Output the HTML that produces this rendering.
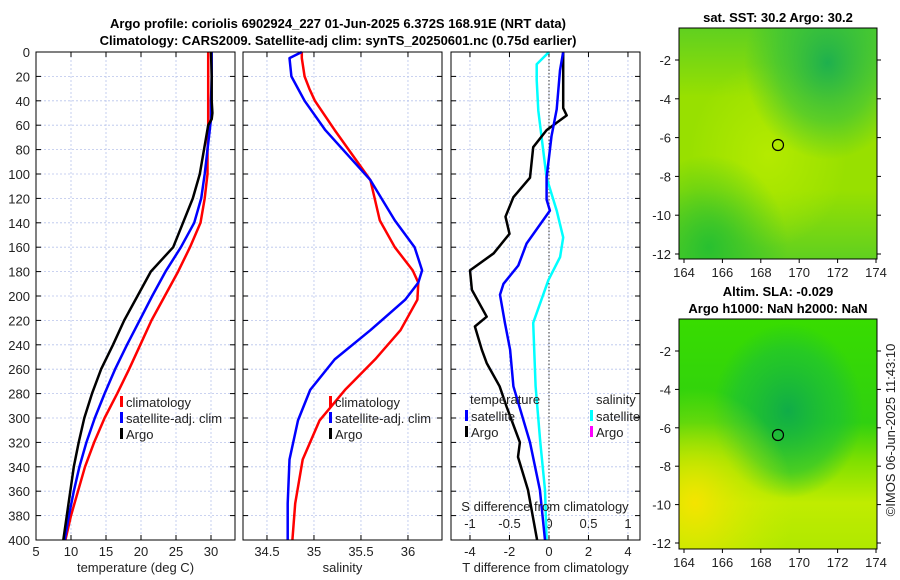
<!DOCTYPE html>
<html><head><meta charset="utf-8"><style>
body{margin:0;background:#fff;}
svg{display:block;font-family:"Liberation Sans",sans-serif;}
.t{font-size:13px;fill:#222;}
.ti{font-size:13px;font-weight:bold;fill:#000;}
</style></head><body>
<svg id="c" width="900" height="580" xmlns="http://www.w3.org/2000/svg">
<defs>
<radialGradient id="g1a" cx="0.75" cy="0.15" r="0.42"><stop offset="0" stop-color="#1eb04e"/><stop offset="0.6" stop-color="#30c040" stop-opacity="0.6"/><stop offset="1" stop-color="#30c040" stop-opacity="0"/></radialGradient>
<radialGradient id="g1b" cx="0.15" cy="0.95" r="0.4"><stop offset="0" stop-color="#28c030"/><stop offset="1" stop-color="#28c030" stop-opacity="0"/></radialGradient>
<radialGradient id="g1d" cx="0.45" cy="0.55" r="0.4"><stop offset="0" stop-color="#b4ea00"/><stop offset="1" stop-color="#b4ea00" stop-opacity="0"/></radialGradient>
<linearGradient id="g1c" x1="0" y1="0" x2="0" y2="1"><stop offset="0" stop-color="#60d020"/><stop offset="0.3" stop-color="#98e000"/><stop offset="0.7" stop-color="#98e000"/><stop offset="1" stop-color="#60d020"/></linearGradient>
<radialGradient id="g2a" cx="0.55" cy="0.4" r="0.38"><stop offset="0" stop-color="#10ac48"/><stop offset="0.7" stop-color="#1cc038" stop-opacity="0.6"/><stop offset="1" stop-color="#1cc038" stop-opacity="0"/></radialGradient>
<radialGradient id="g2b" cx="0.08" cy="0.8" r="0.5"><stop offset="0" stop-color="#f4e400"/><stop offset="1" stop-color="#d0ee00" stop-opacity="0"/></radialGradient>
<linearGradient id="g2c" x1="0" y1="0" x2="0" y2="1"><stop offset="0" stop-color="#38dc00"/><stop offset="0.45" stop-color="#30d010"/><stop offset="0.62" stop-color="#80e000"/><stop offset="0.8" stop-color="#c0ec00"/><stop offset="1" stop-color="#b0e800"/></linearGradient>
</defs>
<text class="ti" x="338" y="28" text-anchor="middle">Argo profile: coriolis 6902924_227 01-Jun-2025 6.372S 168.91E (NRT data)</text>
<text class="ti" x="338" y="45" text-anchor="middle">Climatology: CARS2009. Satellite-adj clim: synTS_20250601.nc (0.75d earlier)</text>
<g id="plots"></g>
<g>
<rect x="679" y="28" width="198" height="231" fill="url(#g1c)"/>
<rect x="679" y="28" width="198" height="231" fill="url(#g1d)"/>
<rect x="679" y="28" width="198" height="231" fill="url(#g1a)"/>
<rect x="679" y="28" width="198" height="231" fill="url(#g1b)"/>
<circle cx="778" cy="145" r="5.5" fill="none" stroke="#000" stroke-width="1.2"/>
<rect x="679" y="28" width="198" height="231" fill="none" stroke="#000"/>
</g>
<text class="ti" x="778" y="22" text-anchor="middle">sat. SST: 30.2 Argo: 30.2</text>
<g>
<rect x="679" y="319" width="198" height="230" fill="url(#g2c)"/>
<rect x="679" y="319" width="198" height="230" fill="url(#g2a)"/>
<rect x="679" y="319" width="198" height="230" fill="url(#g2b)"/>
<circle cx="778" cy="435" r="5.5" fill="none" stroke="#000" stroke-width="1.2"/>
<rect x="679" y="319" width="198" height="230" fill="none" stroke="#000"/>
</g>
<text class="ti" x="778" y="296" text-anchor="middle">Altim. SLA: -0.029</text>
<text class="ti" x="778" y="313" text-anchor="middle">Argo h1000: NaN h2000: NaN</text>
<text class="t" x="0" y="0" transform="translate(895,430) rotate(-90)" text-anchor="middle">©IMOS 06-Jun-2025 11:43:10</text>
</svg>
<script>
const depths=[0,20,40,50,55,60,70,80,100,120,140,160,180,200,220,240,260,280,300,320,340,360,380,400];
const tClim=[29.6,29.6,29.6,29.6,29.6,29.6,29.6,29.5,29.5,29.1,28.5,27.0,25.3,23.4,21.5,19.9,18.3,16.6,14.8,13.3,12.0,11.0,10.0,9.2];
const tSat=[30.1,30.1,30.0,30.0,30.0,29.9,29.7,29.5,29.1,28.6,27.6,25.7,23.5,21.6,19.8,18.0,16.3,14.8,13.4,12.2,11.2,10.4,9.7,9.1];
const tArgo=[30.0,30.1,30.1,30.2,30.1,29.6,29.3,29.0,28.4,27.4,26.0,24.6,21.4,19.5,17.6,16.0,14.3,13.0,11.9,11.1,10.4,9.9,9.4,8.9];
const sDepths=[0,5,20,30,40,64,105,138,160,179,189,203,228,252,277,302,334,370,400];
const sClim=[34.87,34.87,34.9,34.95,35.01,35.22,35.6,35.7,35.86,36.05,36.11,36.1,35.92,35.65,35.33,35.06,34.88,34.8,34.77];
const sSat=[34.87,34.74,34.76,34.83,34.9,35.12,35.6,35.86,36.07,36.15,36.11,35.97,35.6,35.22,34.96,34.83,34.74,34.72,34.72];
const aDepths=[0,46,52,64,78,103,119,135,149,165,179,195,217,225,244,255,274,291,320,332,359,400];
const dTArgo=[0.72,0.72,0.9,-0.12,-0.8,-0.96,-1.8,-2.2,-2.0,-2.8,-4.0,-3.9,-3.15,-3.75,-3.4,-3.15,-2.5,-2.14,-1.47,-1.57,-1.06,-0.6];
const bDepths=[0,15,47,69,103,121,130,157,175,190,199,222,244,274,320,359,400];
const dTSat=[0.72,0.56,0.39,0.13,-0.12,-0.12,0.05,-1.13,-1.55,-2.3,-2.48,-2.23,-1.97,-1.8,-0.96,-0.46,-0.2];
const cDepths=[0,10,23,48,103,130,152,168,187,222,274,320,359,400];
const dSSat=[0,-0.156,-0.156,-0.135,-0.03,0.097,0.18,0.14,-0.008,-0.2,-0.17,-0.11,-0.05,-0.03];
const depthTicks=[0,20,40,60,80,100,120,140,160,180,200,220,240,260,280,300,320,340,360,380,400];
const tTicks=[5,10,15,20,25,30];
const sTicks=[34.5,35,35.5,36];
const dTicks=[-4,-2,0,2,4];
const dsTicks=[-1,-0.5,0,0.5,1];
const lonTicks=[164,166,168,170,172,174];
const latTicks=[-2,-4,-6,-8,-10,-12];

const NS='http://www.w3.org/2000/svg';
const root=document.getElementById('plots');
function mk(tag,attrs,parent){const e=document.createElementNS(NS,tag);for(const k in attrs)e.setAttribute(k,attrs[k]);(parent||root).appendChild(e);return e;}
const yTop=52,yBot=540;
const yS=d=>yTop+(d/400)*(yBot-yTop);
function panel(name,x0,x1,xmin,xmax,ticks,xlabel){
  const g=mk('g',{});
  
  
  const xs=v=>x0+(v-xmin)/(xmax-xmin)*(x1-x0);
  ticks.forEach(t=>{mk('line',{x1:xs(t),x2:xs(t),y1:yTop,y2:yBot,stroke:'#b8c4ec','stroke-width':0.8,'stroke-dasharray':'2,2'},g);});
  depthTicks.forEach(d=>{mk('line',{x1:x0,x2:x1,y1:yS(d),y2:yS(d),stroke:'#b8c4ec','stroke-width':0.8,'stroke-dasharray':'2,2'},g);
    mk('line',{x1:x0,x2:x0+5,y1:yS(d),y2:yS(d),stroke:'#000'},g);mk('line',{x1:x1,x2:x1-5,y1:yS(d),y2:yS(d),stroke:'#000'},g);});
  ticks.forEach(t=>{mk('line',{x1:xs(t),x2:xs(t),y1:yBot,y2:yBot-5,stroke:'#000'},g);mk('line',{x1:xs(t),x2:xs(t),y1:yTop,y2:yTop+5,stroke:'#000'},g);
    const tx=mk('text',{x:xs(t),y:yBot+16,'text-anchor':'middle',class:'t'},g);tx.textContent=t;});
  if(xlabel){const l=mk('text',{x:(x0+x1)/2,y:yBot+32,'text-anchor':'middle',class:'t'},g);l.textContent=xlabel;}
  return {g,xs};
}
function line(p,xsArr,ds,color,name,xf){
  const f=xf||p.xs;
  const pts=xsArr.map((v,i)=>f(v).toFixed(1)+','+yS(ds[i]).toFixed(1)).join(' ');
  const e=mk('polyline',{points:pts,fill:'none',stroke:color,'stroke-width':2.5,'stroke-linejoin':'round'},p.g);
  
  
}
function frame(p,x0,x1){mk('rect',{x:x0,y:yTop,width:x1-x0,height:yBot-yTop,fill:'none',stroke:'#000'},p.g);}
function legend(g,x,y,items){items.forEach((it,i)=>{
  mk('rect',{x:x,y:y+i*16-11,width:3,height:11,fill:it[1]},g);
  const t=mk('text',{x:x+6,y:y+i*16,class:'t'},g);t.textContent=it[0];
  
  });}

// panel 1
const p1=panel('temperature-panel',36,235,5,5+(235-36)/7,tTicks,'temperature (deg C)');
depthTicks.forEach(d=>{const t=mk('text',{x:30,y:yS(d)+5,'text-anchor':'end',class:'t'});t.textContent=d;});
line(p1,tClim,depths,'#f00','temp-climatology-line');
line(p1,tSat,depths,'#00f','temp-satellite-line');
line(p1,tArgo,depths,'#000','temp-argo-line');
frame(p1,36,235);
legend(p1.g,120,407,[['climatology','#f00'],['satellite-adj. clim','#00f'],['Argo','#000']]);

// panel 2
const p2=panel('salinity-panel',243,442,34.245,34.245+(442-243)/94,sTicks,'salinity');
line(p2,sClim,sDepths,'#f00','sal-climatology-line');
line(p2,sSat,sDepths,'#00f','sal-satellite-line');
frame(p2,243,442);
legend(p2.g,329,407,[['climatology','#f00'],['satellite-adj. clim','#00f'],['Argo','#000']]);

// panel 3
const p3=panel('difference-panel',451,640,-4.96,-4.96+(640-451)/19.75,dTicks,'T difference from climatology');
const sx=v=>549+v*79;
dsTicks.forEach(t=>{mk('line',{x1:sx(t),x2:sx(t),y1:yBot,y2:yBot-5,stroke:'#000'},p3.g);
  const tx=mk('text',{x:sx(t),y:yBot-12,'text-anchor':'middle',class:'t'},p3.g);tx.textContent=t;});
mk('line',{x1:549,x2:549,y1:yTop,y2:yBot,stroke:'#333','stroke-dasharray':'1.5,2'},p3.g);
line(p3,dSSat,cDepths,'#0ff','sdiff-satellite-line',sx);
line(p3,dTArgo,aDepths,'#000','tdiff-argo-line');
line(p3,dTSat,bDepths,'#00f','tdiff-satellite-line');
const sl=mk('text',{x:545,y:yBot-29,'text-anchor':'middle',class:'t'},p3.g);sl.textContent='S difference from climatology';
frame(p3,451,640);
const lt=mk('text',{x:470,y:404,class:'t'},p3.g);lt.textContent='temperature';
const ls=mk('text',{x:596,y:404,class:'t'},p3.g);ls.textContent='salinity';
legend(p3.g,465,421,[['satellite','#00f'],['Argo','#000']]);
legend(p3.g,590,421,[['satellite','#0ff'],['Argo','#f0f']]);

// map axes
const svg=document.getElementById('c');
function mapAxes(yB,lat2y,perDeg){
  lonTicks.forEach(l=>{const x=684+(l-164)*19.2;
    mk('line',{x1:x,x2:x,y1:yB,y2:yB+4,stroke:'#000'},svg);
    const t=mk('text',{x:x,y:yB+18,'text-anchor':'middle',class:'t'},svg);t.textContent=l;});
  latTicks.forEach(l=>{const y=lat2y+(-2-l)*perDeg;
    mk('line',{x1:679,x2:675,y1:y,y2:y,stroke:'#000'},svg);mk('line',{x1:877,x2:881,y1:y,y2:y,stroke:'#000'},svg);
    const t=mk('text',{x:671,y:y+5,'text-anchor':'end',class:'t'},svg);t.textContent=l;});
}
mapAxes(259,60,19.4);
mapAxes(549,351,19.2);
</script>
</body></html>
